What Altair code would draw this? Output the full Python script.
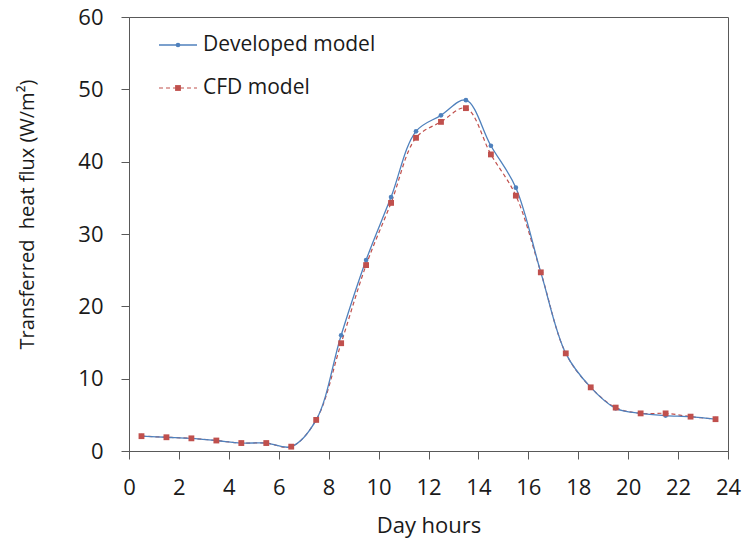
import altair as alt
import pandas as pd

hours = [0.5, 1.5, 2.5, 3.5, 4.5, 5.5, 6.5, 7.5, 8.5, 9.5, 10.5, 11.5,
         12.5, 13.5, 14.5, 15.5, 16.5, 17.5, 18.5, 19.5, 20.5, 21.5, 22.5, 23.5]
developed = [2.05, 1.9, 1.75, 1.45, 1.1, 1.1, 0.6, 4.3, 16.0, 26.4, 35.1, 44.2,
             46.4, 48.5, 42.2, 36.4, 24.7, 13.5, 8.8, 5.9, 5.2, 4.9, 4.75, 4.4]
cfd = [2.05, 1.9, 1.75, 1.45, 1.1, 1.1, 0.6, 4.3, 14.9, 25.7, 34.3, 43.3,
       45.5, 47.4, 41.0, 35.3, 24.7, 13.5, 8.8, 6.0, 5.2, 5.2, 4.75, 4.4]
series_names = ["Developed model", "CFD model"]
x_ticks = list(range(0, 25, 2))
y_ticks = list(range(0, 61, 10))

BLUE = "#4F81BD"
RED = "#C0504D"
FONT = "Open Sans"
TXT = "#1a1a1a"

df_dev = pd.DataFrame({"hour": hours, "flux": developed})
df_cfd = pd.DataFrame({"hour": hours, "flux": cfd})

xenc = alt.X("hour:Q", scale=alt.Scale(domain=[0, 24], nice=False),
             axis=alt.Axis(values=x_ticks, title="Day hours", grid=False,
                           tickSize=8, labelPadding=35, labelBaseline="alphabetic",
                           labelFontSize=22, titleFontSize=22, titleFontWeight="normal",
                           titleBaseline="alphabetic", titleY=81,
                           labelFlush=False))
yenc = alt.Y("flux:Q", scale=alt.Scale(domain=[0, 60], nice=False),
             axis=alt.Axis(values=y_ticks, title="Transferred\u00a0 heat flux (W/m²)",
                           grid=False, tickSize=8, labelPadding=18,
                           labelFontSize=22, titleFontSize=20, titleFontWeight="normal",
                           titleAngle=270, titleAlign="center", titleBaseline="alphabetic",
                           titleX=-96, titleY=197))

line_dev = alt.Chart(df_dev).mark_line(color=BLUE, strokeWidth=1.3,
                                       interpolate="catmull-rom").encode(x=xenc, y=yenc)
pts_dev = alt.Chart(df_dev).mark_point(shape="circle", filled=True, color=BLUE,
                                       size=22, opacity=1).encode(x="hour:Q", y="flux:Q")
line_cfd = alt.Chart(df_cfd).mark_line(color=RED, strokeWidth=1.2, strokeDash=[4, 3],
                                       interpolate="catmull-rom").encode(x="hour:Q", y="flux:Q")
pts_cfd = alt.Chart(df_cfd).mark_point(shape="square", filled=True, color=RED,
                                       size=34, opacity=1).encode(x="hour:Q", y="flux:Q")

# manual legend inside the plot area
leg_layers = []
leg_specs = [(series_names[0], BLUE, None, "circle", 22, 28),
             (series_names[1], RED, [4, 3], "square", 34, 71)]
for name, col, dash, shp, sz, ly in leg_specs:
    lab = pd.DataFrame({"label": [name]})
    if dash:
        r = alt.Chart(lab).mark_rule(color=col, strokeWidth=1.2, strokeDash=dash)
    else:
        r = alt.Chart(lab).mark_rule(color=col, strokeWidth=1.3)
    leg_layers.append(r.encode(x=alt.value(30), x2=alt.value(68), y=alt.value(ly)))
    leg_layers.append(alt.Chart(lab).mark_point(shape=shp, filled=True, color=col,
                                                size=sz, opacity=1)
                      .encode(x=alt.value(49), y=alt.value(ly)))
    leg_layers.append(alt.Chart(lab).mark_text(align="left", baseline="middle",
                                               font=FONT, fontSize=21, color=TXT)
                      .encode(x=alt.value(74), y=alt.value(ly), text="label:N"))

chart = alt.layer(line_cfd, line_dev, pts_dev, pts_cfd, *leg_layers).properties(
    width=599, height=434,
    autosize=alt.AutoSizeParams(type="none"),
    padding={"left": 129, "top": 17, "right": 14, "bottom": 87},
    background="white",
).configure_view(
    stroke="#595959", strokeWidth=1
).configure_axis(
    domainColor="#595959", tickColor="#595959", domainWidth=1, tickWidth=1,
    labelFont=FONT, titleFont=FONT, labelColor=TXT, titleColor=TXT
)

chart.save("out.html", embed_options={"renderer": "svg", "actions": False})
